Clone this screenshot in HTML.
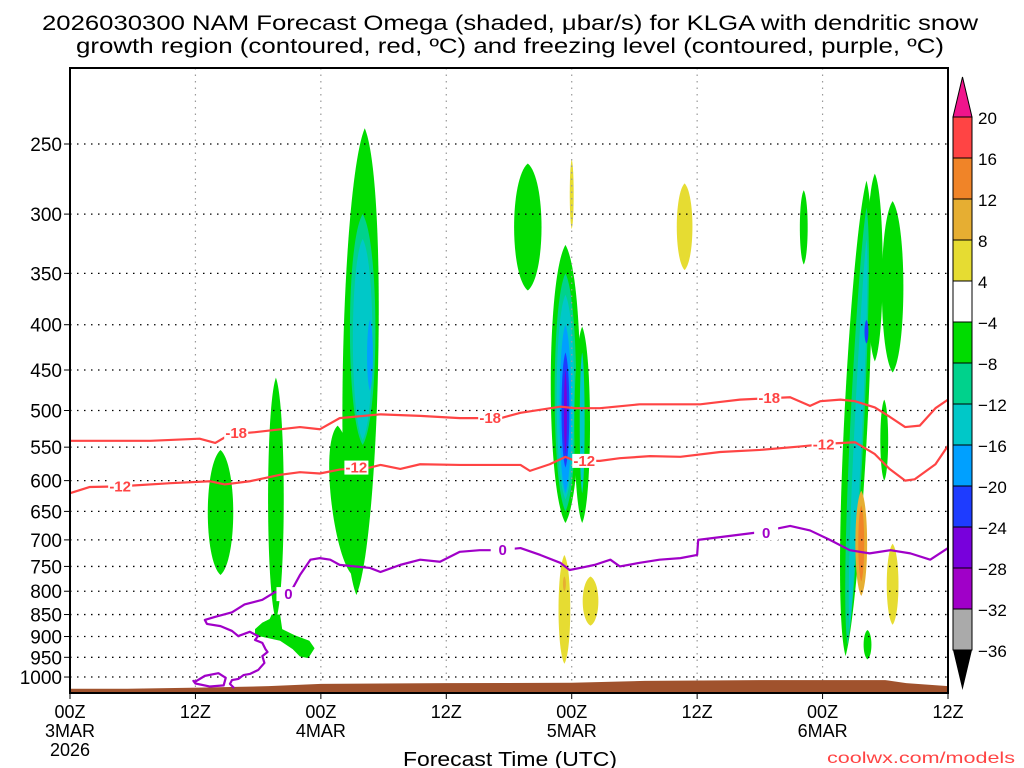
<!DOCTYPE html>
<html><head><meta charset="utf-8"><style>
html,body{margin:0;padding:0;background:#fff}
svg{display:block}
text{font-family:"Liberation Sans",sans-serif}
</style></head><body>
<svg id="chart" width="1024" height="768" viewBox="0 0 1024 768" xmlns="http://www.w3.org/2000/svg">
<text x="510" y="30" font-size="21" text-anchor="middle" textLength="936" lengthAdjust="spacingAndGlyphs">2026030300 NAM Forecast Omega (shaded, μbar/s) for KLGA with dendritic snow</text>
<text x="510" y="53" font-size="21" text-anchor="middle" textLength="868" lengthAdjust="spacingAndGlyphs">growth region (contoured, red, ºC) and freezing level (contoured, purple, ºC)</text>
<g id="plot"></g>
<g id="colorbar"></g>
<text x="510" y="766" font-size="20" text-anchor="middle" textLength="214" lengthAdjust="spacingAndGlyphs">Forecast Time (UTC)</text>
<text x="1015" y="763" font-size="16" fill="#ff4444" text-anchor="end" textLength="188" lengthAdjust="spacingAndGlyphs">coolwx.com/models</text>
</svg>
<script>
// ---- data ----
const pressureTicks=[250,300,350,400,450,500,550,600,650,700,750,800,850,900,950,1000];
const timeTicks=[0,12,24,36,48,60,72,84];
const timeLabels1=["00Z","12Z","00Z","12Z","00Z","12Z","00Z","12Z"];
const timeLabels2=["3MAR","","4MAR","","5MAR","","6MAR",""];
const timeLabels3=["2026","","","","","","",""];
const cbLevels=[20,16,12,8,4,-4,-8,-12,-16,-20,-24,-28,-32,-36];
const cbColors=["#ff4444","#f08428","#e6ae32","#e6dc32","#ffffff","#00dc00","#00d28c","#00c8c8","#00a0ff","#1e3cff","#7800dc","#a000c8","#aaaaaa"];
// omega blobs: level index into cbColors, top hour/pressure, bottom hour/pressure, half width (hours)
const blobLevel=[5,5,5,5,5,6,7,8, 5,3,5,6,7,8,9,10, 5,7, 3,3,2, 3, 5,5,5,6,7,9, 5,5, 2,1, 3, 5];
const blobTopH =[14.4,17.8,19.7,25.6,28.2,28.0,28.0,28.7, 43.8,48.0,47.4,47.4,47.4,47.4,47.4,47.4, 49.0,49.0, 58.8,47.3,47.3, 49.8, 70.2,77.0,76.2,76.2,76.2,76.2, 78.7,77.9, 75.7,75.7, 78.7, 76.3];
const blobTopP =[554,641,459,520,240,300,320,395, 263,260,325,350,370,400,430,450, 402,430, 277,728,770, 770, 282,270,275,295,320,395, 290,486, 616,640, 707, 885];
const blobBotH =[14.4,17.8,19.7,27.0,27.4,28.0,28.0,28.7, 43.8,48.0,47.4,47.4,47.4,47.4,47.4,47.4, 49.0,49.0, 58.8,47.3,47.3, 49.8, 70.2,77.0,74.2,74.4,74.6,76.2, 78.7,77.9, 75.7,75.7, 78.7, 76.3];
const blobBotP =[767,641,862,767,808,547,540,475, 366,312,670,650,630,620,580,560, 670,620, 347,966,800, 875, 342,440,947,920,880,420, 453,600, 810,780, 873, 955];
const blobHalfW=[1.3,0.7,0.8,1.4,1.8,1.3,1.0,0.3, 1.4,0.2,1.5,1.1,0.9,0.6,0.4,0.15, 0.8,0.25, 0.8,0.6,0.15, 0.8, 0.4,0.8,1.2,0.7,0.4,0.2, 1.1,0.4, 0.6,0.3, 0.6, 0.4];
// lower green blob polygon near 4MAR 00Z (hour, hPa)
const lowBlobH=[19.3,20.1,20.3,21.5,22.9,23.4,22.8,22.0,21.3,20.1,17.7,17.7,18.4,19.1];
const lowBlobP=[850,850,883,897,910,928,952,948,930,910,897,883,868,860];
// isotherm contours (hour, hPa)
const m18H=[0,7.7,12.4,13.9,15.3,17.7,22.0,23.9,25.8,29.7,33.5,37.3,41.2,43.1,46.9,48.3,50.7,54.5,60.3,62.2,64.1,68.9,70.8,71.8,73.7,75.1,77.0,78.4,79.9,81.3,82.8,84.0];
const m18P=[541,541,538,544,532,529,522,525,510,505,507,510,510,503,495,497,497,492,492,489,486,483,494,488,486,488,496,508,522,520,497,486];
const m12H=[0,1.9,4.8,9.6,13.4,14.8,17.2,20.1,22.0,23.9,25.8,28.7,29.7,31.6,33.5,37.3,40.2,43.1,44.0,45.9,47.4,48.3,50.7,52.6,55.5,58.4,62.2,66.0,69.9,72.7,75.1,77.0,78.4,79.9,80.8,82.8,84.0];
const m12P=[620,610,609,604,601,606,601,591,587,589,583,580,576,582,575,576,576,576,585,575,564,570,570,566,563,564,557,554,549,545,543,560,582,600,598,575,548];
const zeroLowH=[21.0,19.6,18.4,16.7,15.5,13.9,12.9,13.1,14.4,15.5,16.1,17.2,18.0,17.7,18.4,18.7,18.9,18.4,18.6,18.0,17.2,16.6,16.1,15.5,15.3,15.7];
const zeroLowP=[806,802,818,828,845,855,862,871,876,887,899,889,899,908,915,930,937,947,964,982,992,995,1005,1008,1018,1029];
const zeroH=[21.0,22.0,23.0,23.9,24.9,25.8,28.7,29.7,31.6,33.5,35.4,37.3,39.2,41.1,43.1,45.0,46.9,47.8,48.8,50.2,51.7,52.6,54.5,56.4,58.4,60.0,60.1,62.2,66.0,68.9,70.8,72.7,74.6,76.5,78.5,80.4,82.3,84.0];
const zeroP=[806,767,737,734,737,747,753,761,747,737,741,722,719,719,715,728,743,757,753,747,737,750,743,737,734,728,700,695,686,675,683,700,719,725,719,725,737,715];
const loopH=[12.0,12.9,14.2,14.9,14.7,13.4,12.0,11.8];
const loopP=[1012,997,990,1002,1022,1025,1017,1010];
const groundH=[0,5.5,12.3,19,24,36,48,55,66,72,78,80,84];
const groundP=[1031,1031,1028,1024,1018,1016,1015,1010,1008,1008,1008,1016,1024];

// ---- axes ----
const X0=70,X1=948,Y0=68,Y1=693;
const xS=h=>X0+(X1-X0)*h/84;
const yS=p=>144+384.5*Math.log(p/250);
const NS="http://www.w3.org/2000/svg";
function mk(tag,attrs,parent){const e=document.createElementNS(NS,tag);for(const k in attrs)e.setAttribute(k,attrs[k]);parent.appendChild(e);return e;}
const plot=document.getElementById('plot');
const cb=document.getElementById('colorbar');

// blobs
for(let i=0;i<blobLevel.length;i++){
  const xt=xS(blobTopH[i]),yt=yS(blobTopP[i]),xb=xS(blobBotH[i]),yb=yS(blobBotP[i]);
  const w=blobHalfW[i]*(X1-X0)/84/0.8,L=yb-yt;
  const d=`M${xt},${yt} C${xt+w},${yt+0.12*L} ${xb+w},${yb-0.12*L} ${xb},${yb} C${xb-w},${yb-0.12*L} ${xt-w},${yt+0.12*L} ${xt},${yt}Z`;
  const e=mk('path',{d:d,fill:cbColors[blobLevel[i]]},plot);
  
  
}
{
  const pts=lowBlobH.map((h,i)=>xS(h)+','+yS(lowBlobP[i])).join(' ');
  const e=mk('polygon',{points:pts,fill:cbColors[5]},plot);
  
  
}
// gridlines
pressureTicks.forEach(p=>{
  const e=mk('line',{x1:X0,x2:X1,y1:yS(p),y2:yS(p),stroke:'#000','stroke-width':1.3,'stroke-dasharray':'1.5 5.5'},plot);
  
  
});
timeTicks.forEach(h=>{
  if(h===0||h===84)return;
  const e=mk('line',{x1:xS(h),x2:xS(h),y1:Y0,y2:Y1,stroke:'#999','stroke-width':1.2,'stroke-dasharray':'1.5 5'},plot);
  
  
});
// ground
{
  let d=`M${X0},${Y1} `+groundH.map((h,i)=>`L${xS(h)},${Math.min(yS(groundP[i]),Y1)}`).join(' ')+` L${X1},${Y1}Z`;
  const e=mk('path',{d:d,fill:'#a0522d'},plot);
  
  
}
function line(H,P,color,name,close){
  let d=H.map((h,i)=>(i?'L':'M')+xS(h)+','+yS(P[i])).join(' ')+(close?'Z':'');
  const e=mk('path',{d:d,fill:'none',stroke:color,'stroke-width':2.2,'stroke-linejoin':'round'},plot);
  
  
}
line(m18H,m18P,'#ff4444','contour-minus18');
line(m12H,m12P,'#ff4444','contour-minus12');
line(zeroLowH,zeroLowP,'#a000c8','freezing-level-lower');
line(zeroH,zeroP,'#a000c8','freezing-level');
line(loopH,loopP,'#a000c8','freezing-level-loop',true);
function lab(h,p,t,color,name){
  const x=xS(h),y=yS(p);
  const r=mk('rect',{x:x-12,y:y-7,width:24,height:14,fill:'#fff'},plot);
  
  
  const e=mk('text',{x:x,y:y+5,'font-size':15,'font-weight':'bold',fill:color,'text-anchor':'middle'},plot);
  e.textContent=t;
  
  
}
lab(15.9,530,'-18','#ff4444','label-minus18-a');
lab(40.2,510,'-18','#ff4444','label-minus18-b');
lab(66.9,484,'-18','#ff4444','label-minus18-c');
lab(4.8,609,'-12','#ff4444','label-minus12-a');
lab(27.4,580,'-12','#ff4444','label-minus12-b');
lab(49.2,570,'-12','#ff4444','label-minus12-c');
lab(72.1,546,'-12','#ff4444','label-minus12-d');
lab(20.9,806,'0','#a000c8','label-zero-a');
lab(41.4,719,'0','#a000c8','label-zero-b');
lab(66.6,688,'0','#a000c8','label-zero-c');
// frame
{
  const e=mk('rect',{x:X0,y:Y0,width:X1-X0,height:Y1-Y0,fill:'none',stroke:'#000','stroke-width':2},plot);
  
  
}
// y ticks
pressureTicks.forEach(p=>{
  const t=mk('text',{x:62,y:yS(p)+7,'font-size':19,'text-anchor':'end'},plot);
  t.textContent=p;
  
  
  const l=mk('line',{x1:X0-6,x2:X0,y1:yS(p),y2:yS(p),stroke:'#000','stroke-width':1},plot);
  
  
});
// x ticks
timeTicks.forEach((h,i)=>{
  const x=xS(h);
  const l=mk('line',{x1:x,x2:x,y1:Y1,y2:Y1+6,stroke:'#000','stroke-width':1},plot);
  
  
  [[timeLabels1[i],718],[timeLabels2[i],737],[timeLabels3[i],756]].forEach(([s,y])=>{
    if(!s)return;
    const t=mk('text',{x:x,y:y,'font-size':18,'text-anchor':'middle'},plot);
    t.textContent=s;
    
    
  });
});
// colorbar
const CBX=953,CBW=19,CBT=117,CBH=41;
{
  const e=mk('polygon',{points:`${CBX},${CBT} ${CBX+CBW/2},77 ${CBX+CBW},${CBT}`,fill:'#f0148c',stroke:'#000','stroke-width':1},cb);
  
  
}
cbColors.forEach((c,i)=>{
  const e=mk('rect',{x:CBX,y:CBT+i*CBH,width:CBW,height:CBH,fill:c,stroke:'#000','stroke-width':1},cb);
  
  
});
{
  const yb=CBT+cbColors.length*CBH;
  const e=mk('polygon',{points:`${CBX},${yb} ${CBX+CBW/2},690 ${CBX+CBW},${yb}`,fill:'#000'},cb);
  
  
}
cbLevels.forEach((v,i)=>{
  const t=mk('text',{x:978,y:CBT+i*CBH+7,'font-size':17},cb);
  t.textContent=v<0?'\u2212'+(-v):String(v);
  
  
});
</script>
</body></html>
